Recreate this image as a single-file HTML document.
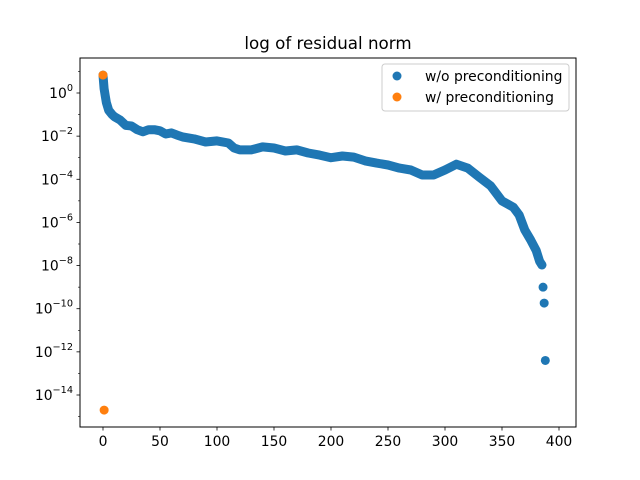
<!DOCTYPE html>
<html><head><meta charset="utf-8"><style>
html,body{margin:0;padding:0;background:#fff;}
svg{display:block;font-family:"DejaVu Sans","Liberation Sans",sans-serif;}
</style></head><body>
<svg id="chart" width="640" height="480" viewBox="0 0 640 480">
<rect x="0" y="0" width="640" height="480" fill="#fff"/>
<text x="328" y="49" font-size="16.7" text-anchor="middle">log of residual norm</text>
<g id="grid"></g>
<g id="series"></g>
<rect x="80" y="58" width="496" height="369" fill="none" stroke="#000" stroke-width="1"/>
<g id="axes"></g>
<g>
<rect x="382" y="64" width="187" height="47" rx="3" fill="#fff" fill-opacity="0.8" stroke="#ccc"/>
<circle cx="397" cy="76" r="4.5" fill="#1f77b4"/>
<text x="425" y="81" font-size="13.9">w/o preconditioning</text>
<circle cx="397" cy="97" r="4.5" fill="#ff7f0e"/>
<text x="425" y="102" font-size="13.9">w/ preconditioning</text>
</g>
</svg>
<script>
const iterWo = [0,1,2,3,5,8,10,15,20,25,30,35,40,45,50,55,60,65,70,80,90,100,110,115,120,130,140,150,160,170,180,190,200,210,220,230,240,250,260,270,280,290,300,310,320,330,340,350,355,360,365,370,375,380,383,385,386,387,388];
const logWo = [0.83,0.2,-0.15,-0.45,-0.8,-1.0,-1.1,-1.25,-1.5,-1.53,-1.7,-1.8,-1.7,-1.7,-1.75,-1.9,-1.85,-1.95,-2.04,-2.13,-2.27,-2.22,-2.32,-2.55,-2.64,-2.64,-2.5,-2.55,-2.69,-2.64,-2.78,-2.88,-3.0,-2.92,-2.97,-3.15,-3.25,-3.34,-3.48,-3.57,-3.8,-3.8,-3.57,-3.3,-3.48,-3.9,-4.3,-5.0,-5.15,-5.3,-5.65,-6.35,-6.8,-7.3,-7.8,-7.97,-9.0,-9.74,-12.4];
const iterW = [0,1];
const logW = [0.83,-14.7];
const xTicks = [0,50,100,150,200,250,300,350,400];
const yTicks = [0,-2,-4,-6,-8,-10,-12,-14];
const yMinor = [1,-1,-3,-5,-7,-9,-11,-13,-15];

const NS="http://www.w3.org/2000/svg";
const X = v => 103 + (v-0)*(559-103)/400;
const Y = l => 93 + (0-l)*(395-93)/14;
function mk(tag, attrs, parent){const e=document.createElementNS(NS,tag);for(const k in attrs)e.setAttribute(k,attrs[k]);parent.appendChild(e);return e;}
const series=document.getElementById('series'), axes=document.getElementById('axes');

// w/o band
let d = iterWo.map((v,i)=>(i?'L':'M')+X(v).toFixed(1)+' '+Y(logWo[i]).toFixed(1)).join(' ');
const band = mk('path',{d:d,fill:'none',stroke:'#1f77b4','stroke-width':9,'stroke-linecap':'round','stroke-linejoin':'round'},series);


iterWo.forEach((v,i)=>{
  if(i>=iterWo.length-4){
    const c=mk('circle',{cx:X(v),cy:Y(logWo[i]),r:4.5,fill:'#1f77b4'},series);
    
    
  }
});
// re-draw last isolated points separately (break band for gaps)
band.setAttribute('d', iterWo.slice(0,iterWo.length-3).map((v,i)=>(i?'L':'M')+X(v).toFixed(1)+' '+Y(logWo[i]).toFixed(1)).join(' '));
iterW.forEach((v,i)=>{
  const c=mk('circle',{cx:X(v),cy:Y(logW[i]),r:4.5,fill:'#ff7f0e'},series);
  
  
});

xTicks.forEach(t=>{
  const x=X(t);
  const l=mk('line',{x1:x,x2:x,y1:427,y2:430.5,stroke:'#000','stroke-width':0.8},axes);
  
  
  const tx=mk('text',{x:x,y:446,'font-size':13.9,'text-anchor':'middle'},axes);
  tx.textContent=t;
  
  
});
yTicks.forEach(t=>{
  const y=Y(t);
  const l=mk('line',{x1:76.5,x2:80,y1:y,y2:y,stroke:'#000','stroke-width':0.8},axes);
  
  
  const tx=mk('text',{x:73,y:y+5,'font-size':13.9,'text-anchor':'end'},axes);
  
  
  const a=document.createElementNS(NS,'tspan');a.textContent='10';tx.appendChild(a);
  const b=document.createElementNS(NS,'tspan');b.setAttribute('dy','-7');b.setAttribute('font-size','9.7');b.textContent=(t<0?'\u2212'+(-t):t);tx.appendChild(b);
});
yMinor.forEach(t=>{
  const y=Y(t); if(y<58||y>427) return;
  const l=mk('line',{x1:78,x2:80,y1:y,y2:y,stroke:'#000','stroke-width':0.6},axes);
  
  
});
</script>
</body></html>
